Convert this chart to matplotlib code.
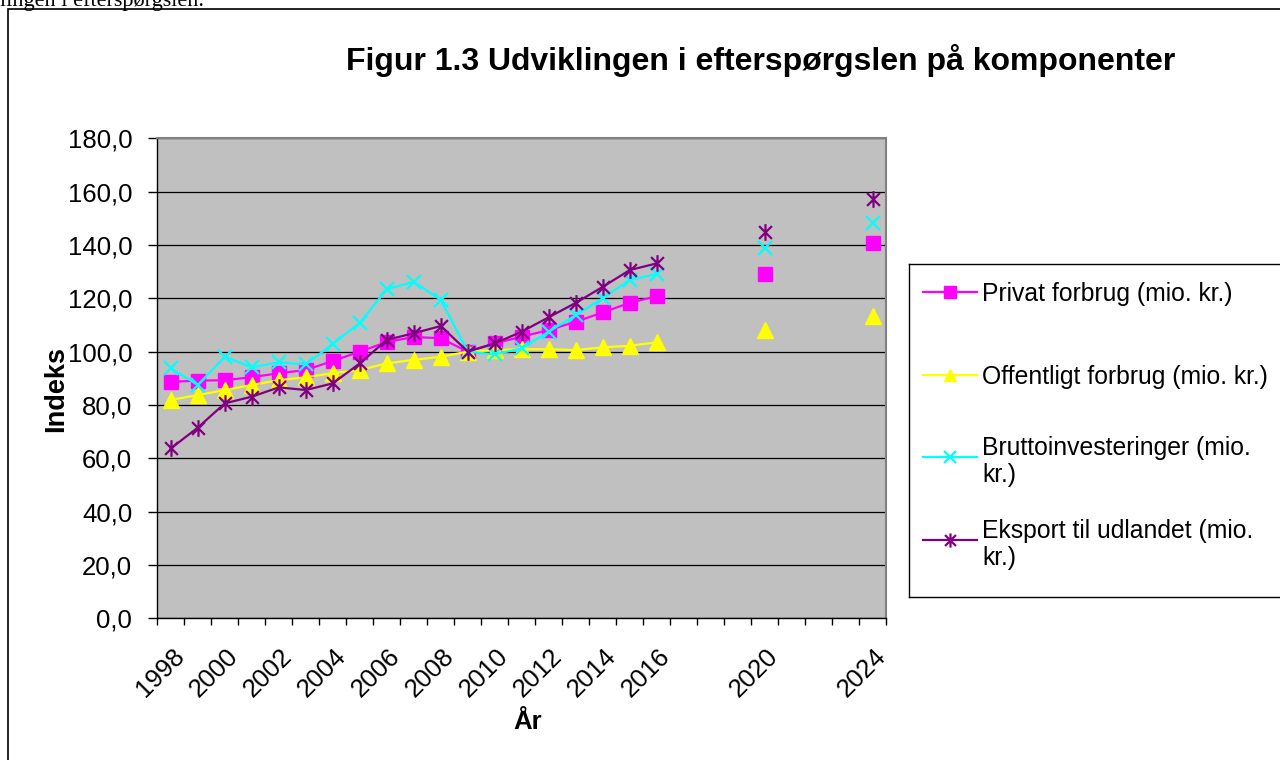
import numpy as np
import matplotlib
matplotlib.use('Agg')
import matplotlib.pyplot as plt
from matplotlib.path import Path
from matplotlib.patches import Rectangle
from matplotlib.ticker import NullFormatter, FuncFormatter
from matplotlib.transforms import ScaledTranslation

plt.rcParams['font.family'] = ['Liberation Sans', 'DejaVu Sans']

# ------------------------------------------------------------
# Data (index)
# ------------------------------------------------------------
nan = np.nan
years = np.arange(1998, 2025)
label_years = [1998, 2000, 2002, 2004, 2006, 2008, 2010, 2012, 2014, 2016, 2020, 2024]

privat = [88.7, 89.1, 89.3, 90.4, 91.9, 93.1, 96.5, 100.0, 103.6, 105.5, 105.0, 100.0, 103.1,
          105.6, 108.1, 111.2, 114.7, 118.3, 120.8, nan, nan, nan, 129.1, nan, nan, nan, 140.8]
offentligt = [81.9, 83.7, 85.6, 87.5, 89.3, 90.4, 91.9, 93.1, 95.6, 96.9, 98.1, 100.0, 100.6,
              100.9, 100.9, 100.6, 101.6, 102.2, 103.5, nan, nan, nan, 108.1, nan, nan, nan, 113.5]
brutto = [93.7, 87.5, 98.1, 94.1, 96.0, 95.2, 102.9, 110.8, 123.4, 126.2, 119.4, 100.0, 99.0,
          101.2, 107.5, 113.7, 120.0, 126.9, 129.1, nan, nan, nan, 138.7, nan, nan, nan, 148.3]
eksport = [63.7, 71.5, 80.6, 83.1, 86.6, 85.6, 88.1, 95.6, 104.4, 106.9, 109.6, 100.0, 103.1,
           107.5, 112.9, 118.3, 124.3, 130.6, 133.1, nan, nan, nan, 145.0, nan, nan, nan, 157.1]

labels = ['Privat forbrug (mio. kr.)',
          'Offentligt forbrug (mio. kr.)',
          'Bruttoinvesteringer (mio.\nkr.)',
          'Eksport til udlandet (mio.\nkr.)']

# Excel-style "star" marker: an x with a vertical bar
star = Path([(-1, -1), (1, 1), (-1, 1), (1, -1), (0, -1.3), (0, 1.3)],
            [Path.MOVETO, Path.LINETO, Path.MOVETO, Path.LINETO, Path.MOVETO, Path.LINETO])

styles = [
    dict(color='#FF00FF', marker='s', ms=10, mew=1),
    dict(color='#FFFF00', marker='^', ms=11, mew=1),
    dict(color='#00FFFF', marker='x', ms=10, mew=1.6),
    dict(color='#800080', marker=star, ms=12, mew=1.6),
]
series = [privat, offentligt, brutto, eksport]

W, H = 1280, 760
def fx(x):
    return x / W
def fy(y):
    return 1 - y / H

fig = plt.figure(figsize=(12.8, 7.6), dpi=100)

# text cut off at the top of the page
fig.text(fx(0), fy(6), 'lingen i efterspørgslen.', family='Liberation Serif',
         fontsize=16, ha='left', va='baseline')

# chart area frame
fig.add_artist(Rectangle((fx(8), fy(800)), fx(1300) - fx(8), fy(9) - fy(800),
                         transform=fig.transFigure, fill=False, ec='black', lw=1.2))

# ------------------------------------------------------------
# Plot area
# ------------------------------------------------------------
ax = fig.add_axes([fx(157.3), fy(618.3), fx(886.3) - fx(157.3), fy(138.3) - fy(618.3)])
ax.set_facecolor('#C0C0C0')

for vals, st in zip(series, styles):
    ax.plot(years, vals, lw=1.6, color=st['color'], marker=st['marker'], ms=st['ms'],
            mfc=st['color'], mec=st['color'], mew=st['mew'])

ax.set_xlim(1997.5, 2024.5)
ax.set_ylim(0, 180)
ax.set_yticks(np.arange(0, 181, 20))
ax.yaxis.set_major_formatter(FuncFormatter(lambda v, p: f'{v:.1f}'.replace('.', ',')))
ax.tick_params(axis='y', direction='out', length=6.5, width=1, pad=11.5, labelsize=18.5)
ax.yaxis.grid(True, color='black', lw=0.9)
ax.set_axisbelow(True)

ax.set_xticks(np.arange(1997.5, 2025, 1))
ax.xaxis.set_major_formatter(NullFormatter())
ax.set_xticks(label_years, [str(y) for y in label_years], minor=True)
ax.tick_params(axis='x', which='major', direction='out', length=5, width=1)
ax.tick_params(axis='x', which='minor', length=0, pad=18.5, labelsize=18.5)
shift = ScaledTranslation(1 / 100, 0, fig.dpi_scale_trans)
for lab in ax.get_xticklabels(minor=True):
    lab.set_rotation(45)
    lab.set_ha('right')
    lab.set_va('top')
    lab.set_rotation_mode('anchor')
    lab.set_transform(lab.get_transform() + shift)

for side in ['left', 'bottom']:
    ax.spines[side].set_color('black')
    ax.spines[side].set_linewidth(1)
for side in ['top', 'right']:
    ax.spines[side].set_color('#808080')
    ax.spines[side].set_linewidth(1.5)

# titles
fig.text(fx(761), fy(70), 'Figur 1.3 Udviklingen i efterspørgslen på komponenter',
         fontsize=23, fontweight='bold', ha='center', va='baseline')
fig.text(fx(56), fy(389), 'Indeks', fontsize=19.5, fontweight='bold', rotation=90,
         ha='center', va='center')
fig.text(fx(528), fy(729), 'År', fontsize=18.5, fontweight='bold', ha='center', va='baseline')

# ------------------------------------------------------------
# Legend (Excel style: markers on a short line, first line aligned)
# ------------------------------------------------------------
lg = fig.add_axes([fx(909), fy(597), fx(1300) - fx(909), fy(264) - fy(597)])
lg.set_xlim(0, 391)
lg.set_ylim(333, 0)
lg.set_xticks([])
lg.set_yticks([])
for side in lg.spines.values():
    side.set_color('black')
    side.set_linewidth(1)
for i, (lab, st) in enumerate(zip(labels, styles)):
    y = 28 + 82.7 * i
    lg.plot([14, 41, 68], [y, y, y], lw=1.6, color=st['color'], marker=st['marker'],
            markevery=[1], ms=st['ms'] * 0.85, mfc=st['color'], mec=st['color'], mew=st['mew'])
    lg.text(73, y, lab, fontsize=17.8, ha='left', va='center_baseline', linespacing=1.16)

fig.savefig('out.png', dpi=100)
